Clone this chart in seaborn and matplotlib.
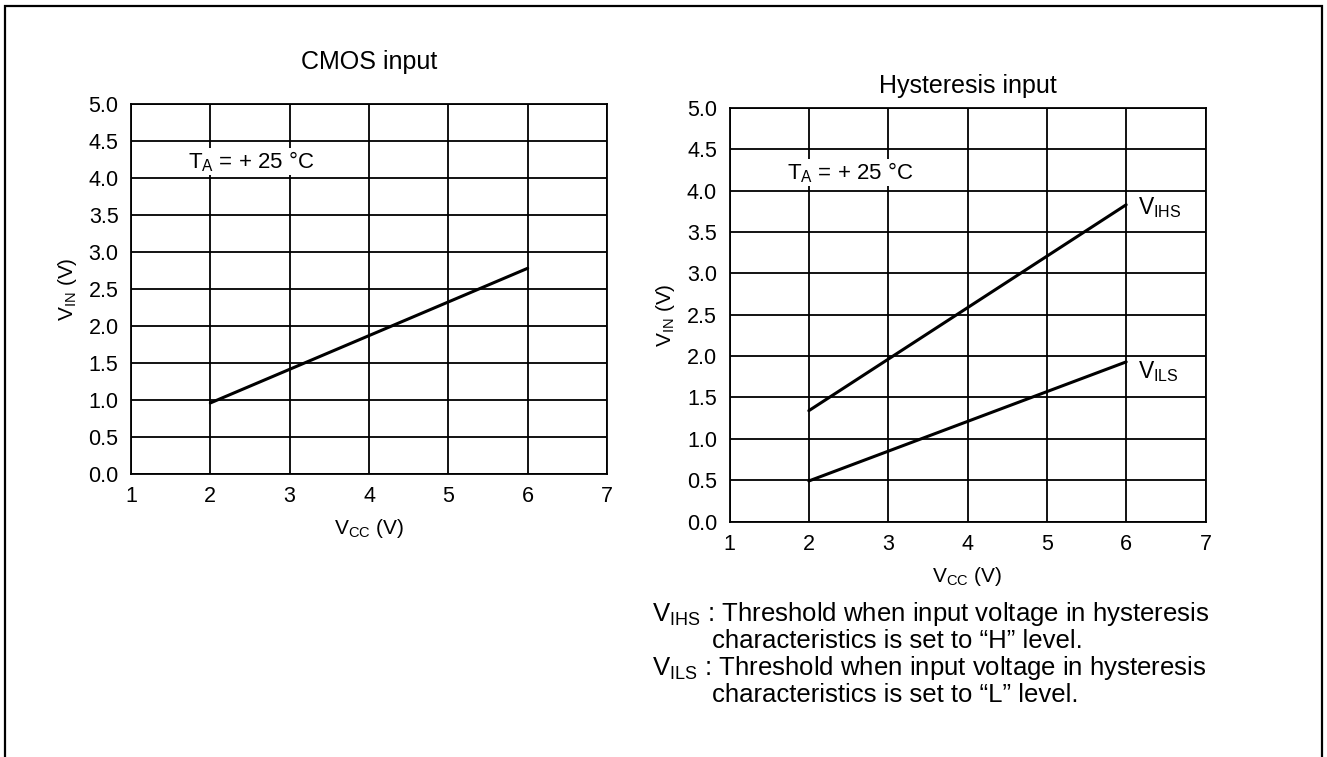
import pandas as pd
import matplotlib.pyplot as plt
import seaborn as sns
from matplotlib.patches import Rectangle

# Values
vcc = [2, 6]
cmos_vin = [0.96, 2.78]
vihs = [1.34, 3.83]
vils = [0.49, 1.93]
x_ticks = [1, 2, 3, 4, 5, 6, 7]
y_ticks = [0.0, 0.5, 1.0, 1.5, 2.0, 2.5, 3.0, 3.5, 4.0, 4.5, 5.0]

sns.set_theme(style="white")
plt.rcParams['font.family'] = ['Liberation Sans', 'DejaVu Sans']
plt.rcParams['mathtext.fontset'] = 'custom'
plt.rcParams['mathtext.rm'] = 'Liberation Sans'
plt.rcParams['mathtext.it'] = 'Liberation Sans'
plt.rcParams['text.color'] = 'black'
plt.rcParams['axes.labelcolor'] = 'black'
plt.rcParams['xtick.color'] = 'black'
plt.rcParams['ytick.color'] = 'black'

fig = plt.figure(figsize=(13.27, 7.57), dpi=100)
W, H = 1327, 757

# outer frame (bottom edge runs off the picture)
fig.patches.append(Rectangle((5 / W, -0.05), 1317 / W, 1.05 - 6 / H,
                             transform=fig.transFigure, fill=False,
                             edgecolor='black', linewidth=1.6))

ax1 = fig.add_axes([131 / W, 1 - 474 / H, 476 / W, 370 / H])
ax2 = fig.add_axes([729.5 / W, 1 - 521.5 / H, 476 / W, 413.5 / H])

df1 = pd.DataFrame({'vcc': vcc, 'vin': cmos_vin})
df2 = pd.DataFrame({'vcc': vcc * 2, 'vin': vihs + vils,
                    'kind': ['VIHS'] * len(vcc) + ['VILS'] * len(vcc)})

sns.lineplot(data=df1, x='vcc', y='vin', ax=ax1, color='black', linewidth=2.2)
sns.lineplot(data=df2, x='vcc', y='vin', units='kind', estimator=None, ax=ax2,
             color='black', linewidth=2.2)

for ax in (ax1, ax2):
    ax.set_xlim(1, 7)
    ax.set_ylim(0, 5)
    ax.set_xticks(x_ticks)
    ax.set_yticks(y_ticks)
    ax.set_xticklabels([str(t) for t in x_ticks])
    ax.set_yticklabels([f'{t:.1f}' for t in y_ticks])
    ax.grid(True, color='black', linewidth=1.3)
    ax.tick_params(length=0, labelsize=15.5, pad=9)
    for s in ax.spines.values():
        s.set_color('black')
        s.set_linewidth(1.3)
    ax.set_xlabel(r'V$_{\mathrm{CC}}$ (V)', fontsize=15, labelpad=7)
    ax.set_ylabel(r'V$_{\mathrm{IN}}$ (V)', fontsize=15, labelpad=7)
    ax.text(1.72, 4.22, r'T$_{\mathrm{A}}$ = + 25 °C', fontsize=16, va='center',
            bbox=dict(facecolor='white', edgecolor='none', pad=1))

fig.text(369 / W, 1 - 62 / H, 'CMOS input', fontsize=18, ha='center', va='center')
fig.text(967.5 / W, 1 - 86 / H, 'Hysteresis input', fontsize=18, ha='center', va='center')

ax2.text(6.15, vihs[-1] - 0.03, r'V$_{\mathrm{IHS}}$', fontsize=16.5, va='center')
ax2.text(6.15, vils[-1] - 0.12, r'V$_{\mathrm{ILS}}$', fontsize=16.5, va='center')

notes = [
    (652, 614, r'V$_{\mathrm{IHS}}$ : Threshold when input voltage in hysteresis'),
    (712, 641, 'characteristics is set to \u201cH\u201d level.'),
    (652, 668, r'V$_{\mathrm{ILS}}$ : Threshold when input voltage in hysteresis'),
    (712, 695, 'characteristics is set to \u201cL\u201d level.'),
]
for x, y, t in notes:
    fig.text(x / W, 1 - y / H, t, fontsize=18.5, va='center', ha='left')

fig.savefig('out.png', dpi=100)
